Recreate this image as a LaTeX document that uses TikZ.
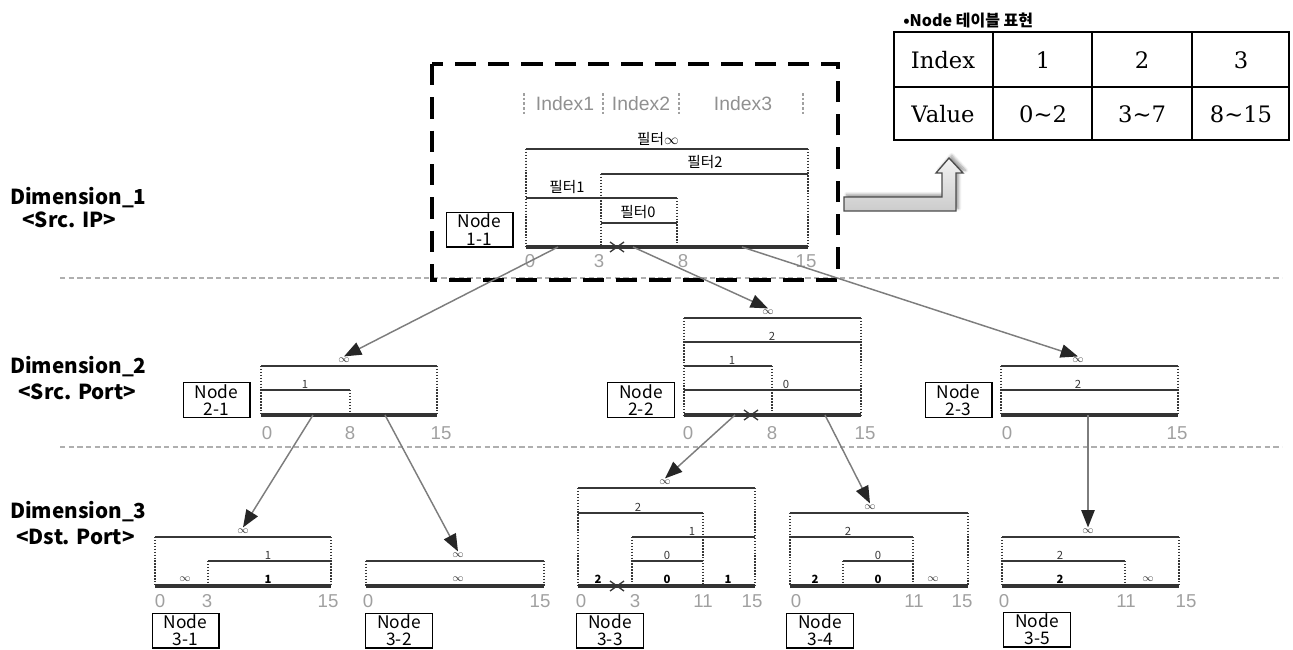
\documentclass[tikz,border=0pt]{standalone}
\usepackage{fontspec}
\usepackage{amsmath}
\setmainfont{Liberation Sans}
\newfontfamily\kr{Noto Sans CJK KR}
\newfontfamily\tabfont{DejaVu Serif}
\usetikzlibrary{arrows.meta, positioning, shadows.blur}
\definecolor{lineGray}{RGB}{55,55,55}
\definecolor{tickGray}{RGB}{160,160,160}
\definecolor{linkGray}{RGB}{125,125,125}
\definecolor{sepGray}{RGB}{175,175,175}

\begin{document}
\begin{tikzpicture}[x=0.75pt,y=0.75pt,yscale=-1,xscale=1,
  ivl/.style={draw=lineGray, line width=1.5pt},
  baseln/.style={draw=black!80, line width=2.3pt},
  vdot/.style={draw=lineGray, line width=1.3pt, dash pattern=on 1.1pt off 1.1pt},
  tnum/.style={text=tickGray, font=\fontsize{14}{14}\selectfont, inner sep=0.75pt},
  lbl/.style={font=\kr\fontsize{8.5}{8.5}\selectfont, inner sep=0.75pt, text=lineGray},
  blbl/.style={font=\kr\bfseries\fontsize{8.5}{8.5}\selectfont, inner sep=0.75pt, text=black},
  flbl/.style={font=\kr\fontsize{11}{11}\selectfont, inner sep=0.5pt},
  hdr/.style={text=tickGray!90!black, font=\fontsize{14.5}{14.5}\selectfont, inner sep=0.75pt},
  nodebox/.style={draw, line width=1pt, minimum width=50pt, minimum height=26pt, inner sep=0pt, align=center, font=\kr\fontsize{13}{13}\selectfont},
  dimlbl/.style={anchor=west, inner sep=0pt, font=\kr\bfseries\fontsize{15.5}{15.5}\selectfont},
  link/.style={draw=linkGray, line width=1.1pt, -{Triangle[length=13pt,width=10pt,color=black!85]}},
  sep/.style={draw=sepGray, line width=1.4pt, dash pattern=on 4pt off 2.5pt},
  cutmk/.style={draw=lineGray, line width=1pt},
  tabtxt/.style={font=\tabfont\fontsize{17}{17}\selectfont, inner sep=0pt}]
\useasboundingbox (0,0) rectangle (1293,650);

% Dimension labels
\node [dimlbl] (dim1) at (10,198) {Dimension\_1};
\node [dimlbl] (src1) at (22,220) {<Src. IP>};
\node [dimlbl] (dim2) at (10,367) {Dimension\_2};
\node [dimlbl] (src2) at (18,392) {<Src. Port>};
\node [dimlbl] (dim3) at (10,512) {Dimension\_3};
\node [dimlbl] (src3) at (16,537) {<Dst. Port>};

% Separators
\draw [sep] (60,278) -- (1282,278);
\draw [sep] (60,447) -- (1282,447);

% Table
\node [anchor=west, inner sep=0pt, font=\kr\bfseries\fontsize{12}{12}\selectfont] (tcap) at (903,20) {•Node 테이블 표현};
\draw [line width=1.5pt] (894,32) rectangle (1289,140);
\draw [line width=1.5pt] (894,87) -- (1289,87);
\draw [line width=1.5pt] (993,32) -- (993,140);
\draw [line width=1.5pt] (1092,32) -- (1092,140);
\draw [line width=1.5pt] (1192,32) -- (1192,140);
\node [tabtxt] (ti) at (943,60) {Index};
\node [tabtxt] (t1) at (1043,60) {1};
\node [tabtxt] (t2) at (1142,60) {2};
\node [tabtxt] (t3) at (1241,60) {3};
\node [tabtxt] (tv) at (943,114) {Value};
\node [tabtxt] (v1) at (1043,114) {0\char"7E 2};
\node [tabtxt] (v2) at (1142,114) {3\char"7E 7};
\node [tabtxt] (v3) at (1241,114) {8\char"7E 15};

% Block arrow
\draw [draw=black!70, line width=1pt, top color=gray!10, bottom color=gray!40, blur shadow={shadow blur steps=6, shadow xshift=2pt, shadow yshift=2pt}] (844,197) -- (942,197) -- (942,173) -- (936,173) -- (949,158) -- (963,173) -- (956,173) -- (956,211) -- (844,211) -- cycle;

% Node 1-1
\draw [dash pattern=on 16pt off 9pt, line width=3pt] (432,64) rectangle (838,280);
\draw [draw=tickGray, line width=0.8pt, dash pattern=on 2pt off 1.5pt] (524,93) -- (524,115);
\draw [draw=tickGray, line width=0.8pt, dash pattern=on 2pt off 1.5pt] (603,93) -- (603,115);
\draw [draw=tickGray, line width=0.8pt, dash pattern=on 2pt off 1.5pt] (679,93) -- (679,115);
\draw [draw=tickGray, line width=0.8pt, dash pattern=on 2pt off 1.5pt] (803,93) -- (803,115);
\node [hdr] (ix1) at (565,104) {Index1};
\node [hdr] (ix2) at (641,104) {Index2};
\node [hdr] (ix3) at (743,104) {Index3};
\draw [vdot] (526,149) -- (526,247);
\draw [vdot] (808,149) -- (808,247);
\draw [vdot] (601,174) -- (601,247);
\draw [vdot] (677,198) -- (677,247);
\draw [ivl] (526,149) -- (808,149);
\draw [ivl] (601,174) -- (808,174);
\draw [ivl] (526,198) -- (677,198);
\draw [ivl] (601,223) -- (677,223);
\draw [baseln] (526,247) -- (808,247);
\node [flbl] (f11a) at (658,139) {필터$\infty$};
\node [flbl] (f11b) at (705,162) {필터2};
\node [flbl] (f11c) at (567,187) {필터1};
\node [flbl] (f11d) at (638,212) {필터0};
\node [tnum] (n11a) at (530,261) {0};
\node [tnum] (n11b) at (599,261) {3};
\node [tnum] (n11c) at (683,261) {8};
\node [tnum] (n11d) at (806,261) {15};
\draw [cutmk] (610,242) -- (617,247) -- (610,252);
\draw [cutmk] (624,242) -- (617,247) -- (624,252);
\node [nodebox] (box11) at (479.5,229.5) {Node\\1-1};

% Node 2-1
\draw [vdot] (261,366) -- (261,415);
\draw [vdot] (437,366) -- (437,415);
\draw [vdot] (350,390) -- (350,415);
\draw [ivl] (261,366) -- (437,366);
\draw [ivl] (261,390) -- (350,390);
\draw [baseln] (261,415) -- (437,415);
\node [lbl] (l21a) at (344,360) {$\infty$};
\node [lbl] (l21b) at (305,384) {1};
\node [tnum] (n21a) at (267,433) {0};
\node [tnum] (n21b) at (350,433) {8};
\node [tnum] (n21c) at (441,433) {15};
\node [nodebox] (box21) at (216.5,400) {Node\\2-1};

% Node 2-2
\draw [vdot] (684,318) -- (684,415);
\draw [vdot] (861,318) -- (861,415);
\draw [vdot] (772,366) -- (772,415);
\draw [ivl] (684,318) -- (861,318);
\draw [ivl] (684,342) -- (861,342);
\draw [ivl] (684,366) -- (772,366);
\draw [ivl] (684,390) -- (861,390);
\draw [baseln] (684,415) -- (861,415);
\node [lbl] (l22a) at (768,312) {$\infty$};
\node [lbl] (l22b) at (772,336) {2};
\node [lbl] (l22c) at (732,360) {1};
\node [lbl] (l22d) at (786,384) {0};
\node [tnum] (n22a) at (688,433) {0};
\node [tnum] (n22b) at (772,433) {8};
\node [tnum] (n22c) at (865,433) {15};
\draw [cutmk] (744,410) -- (751,415) -- (744,420);
\draw [cutmk] (758,410) -- (751,415) -- (758,420);
\node [nodebox] (box22) at (641,400) {Node\\2-2};

% Node 2-3
\draw [vdot] (1001,366) -- (1001,415);
\draw [vdot] (1178,366) -- (1178,415);
\draw [ivl] (1001,366) -- (1178,366);
\draw [ivl] (1001,390) -- (1178,390);
\draw [baseln] (1001,415) -- (1178,415);
\node [lbl] (l23a) at (1078,360) {$\infty$};
\node [lbl] (l23b) at (1078,384) {2};
\node [tnum] (n23a) at (1007,433) {0};
\node [tnum] (n23b) at (1177,433) {15};
\node [nodebox] (box23) at (958.5,400) {Node\\2-3};

% Node 3-1
\draw [vdot] (155,537) -- (155,586);
\draw [vdot] (331,537) -- (331,586);
\draw [vdot] (208,561) -- (208,586);
\draw [ivl] (155,537) -- (331,537);
\draw [ivl] (208,561) -- (331,561);
\draw [baseln] (155,586) -- (331,586);
\node [lbl] (l31a) at (243,531) {$\infty$};
\node [lbl] (l31b) at (268,555) {1};
\node [lbl] (l31c) at (185,579) {$\infty$};
\node [blbl] (l31d) at (268,579) {1};
\node [tnum] (n31a) at (160,601) {0};
\node [tnum] (n31b) at (207,601) {3};
\node [tnum] (n31c) at (328,601) {15};
\node [nodebox] (box31) at (185.5,630.5) {Node\\3-1};

% Node 3-2
\draw [vdot] (366,561) -- (366,586);
\draw [vdot] (544,561) -- (544,586);
\draw [ivl] (366,561) -- (544,561);
\draw [baseln] (366,586) -- (544,586);
\node [lbl] (l32a) at (458,555) {$\infty$};
\node [lbl] (l32b) at (458,579) {$\infty$};
\node [tnum] (n32a) at (368,601) {0};
\node [tnum] (n32b) at (540,601) {15};
\node [nodebox] (box32) at (399,630.5) {Node\\3-2};

% Node 3-3
\draw [vdot] (578,488) -- (578,586);
\draw [vdot] (755,488) -- (755,586);
\draw [vdot] (703,513) -- (703,586);
\draw [vdot] (632,537) -- (632,586);
\draw [ivl] (578,488) -- (755,488);
\draw [ivl] (578,513) -- (703,513);
\draw [ivl] (632,537) -- (755,537);
\draw [ivl] (632,561) -- (703,561);
\draw [baseln] (578,586) -- (755,586);
\node [lbl] (l33a) at (665,482) {$\infty$};
\node [lbl] (l33b) at (638,507) {2};
\node [lbl] (l33c) at (692,531) {1};
\node [lbl] (l33d) at (667,555) {0};
\node [blbl] (l33e) at (598,579) {2};
\node [blbl] (l33f) at (667,579) {0};
\node [blbl] (l33g) at (728,579) {1};
\node [tnum] (n33a) at (581,601) {0};
\node [tnum] (n33b) at (635,601) {3};
\node [tnum] (n33c) at (703,601) {11};
\node [tnum] (n33d) at (752,601) {15};
\draw [cutmk] (610,581) -- (617,586) -- (610,591);
\draw [cutmk] (624,581) -- (617,586) -- (624,591);
\node [nodebox] (box33) at (610,630.5) {Node\\3-3};

% Node 3-4
\draw [vdot] (790,513) -- (790,586);
\draw [vdot] (968,513) -- (968,586);
\draw [vdot] (913,537) -- (913,586);
\draw [vdot] (843,561) -- (843,586);
\draw [ivl] (790,513) -- (968,513);
\draw [ivl] (790,537) -- (913,537);
\draw [ivl] (843,561) -- (913,561);
\draw [baseln] (790,586) -- (968,586);
\node [lbl] (l34a) at (870,507) {$\infty$};
\node [lbl] (l34b) at (848,531) {2};
\node [lbl] (l34c) at (878,555) {0};
\node [blbl] (l34d) at (815,579) {2};
\node [blbl] (l34e) at (878,579) {0};
\node [lbl] (l34f) at (933,579) {$\infty$};
\node [tnum] (n34a) at (796,601) {0};
\node [tnum] (n34b) at (914,601) {11};
\node [tnum] (n34c) at (962,601) {15};
\node [nodebox] (box34) at (820,630.5) {Node\\3-4};

% Node 3-5
\draw [vdot] (1002,537) -- (1002,586);
\draw [vdot] (1179,537) -- (1179,586);
\draw [vdot] (1125,561) -- (1125,586);
\draw [ivl] (1002,537) -- (1179,537);
\draw [ivl] (1002,561) -- (1125,561);
\draw [baseln] (1002,586) -- (1179,586);
\node [lbl] (l35a) at (1088,531) {$\infty$};
\node [lbl] (l35b) at (1060,555) {2};
\node [blbl] (l35c) at (1060,579) {2};
\node [lbl] (l35d) at (1148,579) {$\infty$};
\node [tnum] (n35a) at (1004,601) {0};
\node [tnum] (n35b) at (1126,601) {11};
\node [tnum] (n35c) at (1186,601) {15};
\node [nodebox] (box35) at (1037,629.5) {Node\\3-5};

% Links
\coordinate (b11a) at (558,247);
\coordinate (b11b) at (633,247);
\coordinate (b11c) at (742,247);
\coordinate (b21a) at (313,415);
\coordinate (b21b) at (385,415);
\coordinate (b22a) at (735,415);
\coordinate (b22b) at (825,415);
\coordinate (b23a) at (1088,415);
\draw [link] (b11a) -- (l21a.north);
\draw [link] (b11b) -- (l22a.north);
\draw [link] (b11c) -- (l23a.north);
\draw [link] (b21a) -- (l31a.north);
\draw [link] (b21b) -- (l32a.north);
\draw [link] (b22a) -- (l33a.north);
\draw [link] (b22b) -- (l34a.north);
\draw [link] (b23a) -- (l35a.north);

\end{tikzpicture}
\end{document}
